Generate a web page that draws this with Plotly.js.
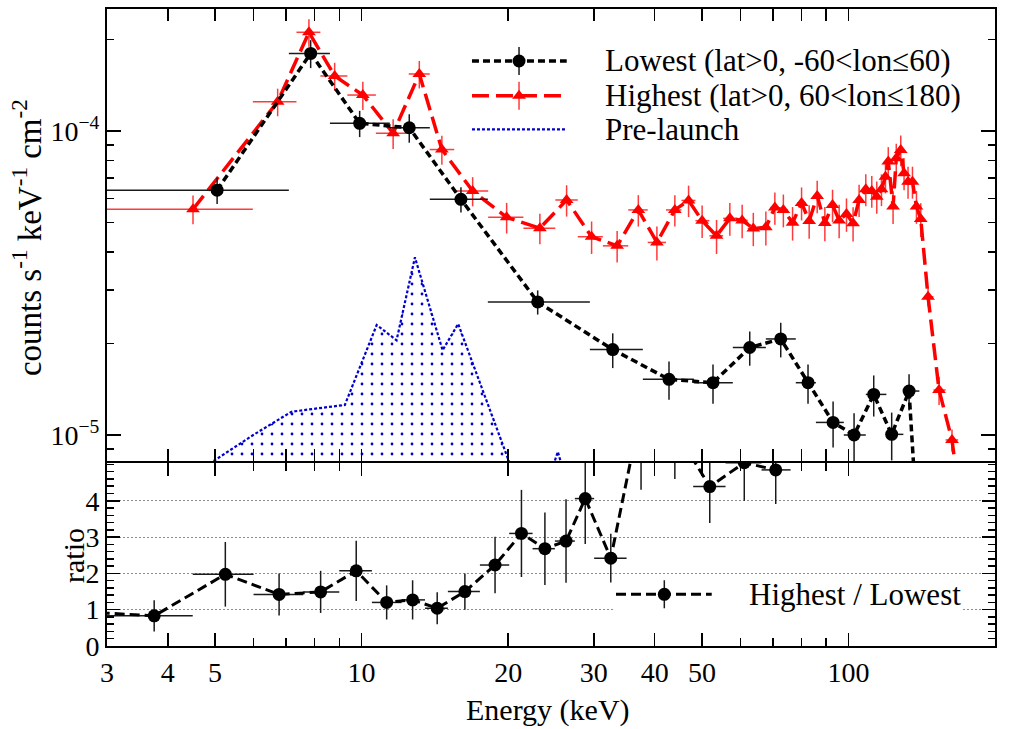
<!DOCTYPE html>
<html>
<head>
<meta charset="utf-8">
<script src="https://cdn.plot.ly/plotly-3.0.1.min.js"></script>
<style>
  html, body { margin: 0; padding: 0; background: #fff; }
  #chart { width: 1013px; height: 729px; }
</style>
</head>
<body>
<div id="chart"></div>
<script>
// ---- Lowest-rate region (lat>0, -60<lon<=60) ----
const lowE = [5.05, 7.86, 9.91, 12.53, 16.0, 23.0, 32.8, 42.8, 52.7, 62.7, 72.6, 82.6, 93.0, 102.7, 112.7, 122.7, 133.2, 143.5];
const lowBinEdges = [3.0, 7.09, 8.61, 11.43, 13.81, 18.17, 29.44, 37.82, 48.14, 57.88, 67.67, 77.96, 85.73, 97.83, 108.55, 119.65, 129.66, 139.85, 147.5];
const lowRate = [6.39e-5, 1.80e-4, 1.06e-4, 1.025e-4, 5.96e-5, 2.74e-5, 1.91e-5, 1.525e-5, 1.486e-5, 1.94e-5, 2.07e-5, 1.486e-5, 1.10e-5, 1.0e-5, 1.36e-5, 1.005e-5, 1.395e-5, 2.0e-6];
const lowErr = [0.64e-5, 1.9e-5, 1.05e-5, 1.1e-5, 0.57e-5, 0.25e-5, 0.25e-5, 0.22e-5, 0.22e-5, 0.25e-5, 0.27e-5, 0.22e-5, 0.19e-5, 0.18e-5, 0.21e-5, 0.18e-5, 0.19e-5, 0];

// ---- Highest-rate region (lat>0, 60<lon<=180) ----
const highE = [4.506, 6.724, 7.796, 8.805, 10.06, 11.61, 13.14, 14.62, 16.91, 19.86, 23.24, 26.37, 29.68, 33.49, 37.02, 40.42, 44.00, 46.95, 50.06, 53.59, 57.07, 60.49, 63.77, 67.67, 70.61, 73.51, 76.78, 80.12, 83.05, 86.26, 89.45, 92.76, 95.70, 99.08, 102.22, 105.17, 108.55, 111.67, 114.34, 116.91, 119.14, 120.73, 123.5, 125.38, 128.07, 130.09, 132.57, 135.36, 137.94, 140.78, 145.72, 153.5, 163.2, 173.0];
const highBinEdges = [3.0, 5.98, 7.35, 8.23, 9.35, 10.7, 12.5, 13.8, 15.5, 18.2, 21.5, 25.0, 27.8, 31.3, 35.3, 38.7, 42.2, 45.4, 48.5, 51.8, 55.3, 58.8, 62.1, 65.7, 69.1, 72.0, 75.1, 78.4, 81.6, 84.6, 87.8, 91.1, 94.2, 97.4, 100.6, 103.7, 106.8, 110.1, 113.0, 115.6, 118.0, 119.9, 122.1, 124.4, 126.7, 129.1, 131.3, 133.9, 136.6, 139.3, 143.2, 149.5, 158.3, 168.0, 178.0];
const highRate = [5.53e-5, 1.248e-4, 2.112e-4, 1.517e-4, 1.313e-4, 9.83e-5, 1.540e-4, 8.69e-5, 6.35e-5, 5.20e-5, 4.79e-5, 5.93e-5, 4.49e-5, 4.19e-5, 5.50e-5, 4.30e-5, 5.50e-5, 5.91e-5, 5.07e-5, 4.52e-5, 5.16e-5, 5.08e-5, 4.78e-5, 4.82e-5, 5.60e-5, 5.50e-5, 4.99e-5, 5.80e-5, 5.06e-5, 6.11e-5, 4.98e-5, 5.71e-5, 5.08e-5, 5.33e-5, 4.97e-5, 5.93e-5, 6.43e-5, 6.35e-5, 6.08e-5, 6.43e-5, 7.07e-5, 7.93e-5, 5.64e-5, 8.13e-5, 8.66e-5, 7.26e-5, 6.81e-5, 6.81e-5, 5.65e-5, 5.13e-5, 2.85e-5, 1.406e-5, 9.63e-6, 4.7e-6];
const highErr = [0.6e-5, 1.3e-5, 2.2e-5, 1.6e-5, 1.4e-5, 1.1e-5, 1.6e-5, 0.95e-5, 0.7e-5, 0.6e-5, 0.55e-5, 0.7e-5, 0.55e-5, 0.5e-5, 0.65e-5, 0.55e-5, 0.65e-5, 0.7e-5, 0.62e-5, 0.58e-5, 0.64e-5, 0.64e-5, 0.6e-5, 0.62e-5, 0.68e-5, 0.68e-5, 0.63e-5, 0.72e-5, 0.64e-5, 0.75e-5, 0.64e-5, 0.7e-5, 0.64e-5, 0.67e-5, 0.64e-5, 0.72e-5, 0.77e-5, 0.76e-5, 0.74e-5, 0.77e-5, 0.84e-5, 0.92e-5, 0.7e-5, 0.95e-5, 1.0e-5, 0.87e-5, 0.82e-5, 0.82e-5, 0.7e-5, 0.65e-5, 0.2e-5, 0.15e-5, 0.08e-5, 0.05e-5];

// ---- Pre-launch background ----
const preE = [4.5, 5.99, 7.18, 9.24, 10.74, 11.80, 12.87, 14.67, 15.79, 20.5, 22.5, 25.3, 28.0];
const preRate = [7.4e-6, 1.0e-5, 1.193e-5, 1.256e-5, 2.30e-5, 2.05e-5, 3.84e-5, 1.90e-5, 2.32e-5, 7.3e-6, 5.0e-6, 8.81e-6, 5.0e-6];
const preFloor = [1e-7, 1e-7, 1e-7, 1e-7, 1e-7, 1e-7, 1e-7, 1e-7, 1e-7, 1e-7, 1e-7, 1e-7, 1e-7];

// ---- Highest / Lowest ratio ----
const ratioE = [2.7, 3.75, 5.25, 6.77, 8.24, 9.75, 11.26, 12.73, 14.3, 16.3, 18.8, 21.3, 23.8, 26.3, 28.8, 32.5, 37.5, 44.0, 51.9, 61.1, 70.9];
const ratioBinEdges = [2.4, 3.0, 4.5, 6.0, 7.59, 9.0, 10.5, 12.08, 13.5, 15.04, 17.5, 20.1, 22.45, 24.95, 27.42, 30.04, 35.02, 40.04, 47.98, 55.92, 66.3, 76.05];
const ratioVal = [0.94, 0.83, 1.975, 1.42, 1.49, 2.07, 1.2, 1.27, 1.04, 1.5, 2.23, 3.1, 2.68, 2.89, 4.06, 2.42, 6.5, 5.96, 4.39, 5.05, 4.85];
const ratioErr = [0.3, 0.43, 0.89, 0.58, 0.58, 0.83, 0.47, 0.54, 0.44, 0.5, 0.78, 1.2, 1.0, 1.15, 1.25, 0.67, 2.2, 1.36, 1.0, 1.05, 0.94];

// ---- Axis ticks and labels ----
const xTickVals = [3, 4, 5, 10, 20, 30, 40, 50, 100, 200];
const xTickText = ['3', '4', '5', '10', '20', '30', '40', '50', '100', '200'];
const xMinorVals = [6, 7, 8, 9, 60, 70, 80, 90];
const topXTickVals = [4, 5, 6, 7, 8, 9, 10, 20, 30, 40, 50, 60, 70, 80, 90, 100];
const topYTickVals = [1e-5, 1e-4];
const topYTickText = ['10<sup>−5</sup>', '10<sup>−4</sup>'];
const topYMinorVals = [9e-6, 2e-5, 3e-5, 4e-5, 5e-5, 6e-5, 7e-5, 8e-5, 9e-5, 2e-4];
const ratioTickVals = [0, 1, 2, 3, 4];
const ratioTickText = ['0', '1', '2', '3', '4'];
const legendLabels = ['Lowest (lat&gt;0, -60&lt;lon≤60)', 'Highest (lat&gt;0, 60&lt;lon≤180)', 'Pre-launch'];
const ratioLegendLabel = 'Highest / Lowest';
const xTitle = 'Energy (keV)';
const yTopTitle = 'counts s<sup>-1</sup> keV<sup>-1</sup> cm<sup>-2</sup>';
const yRatioTitle = 'ratio';

// bin edges -> asymmetric horizontal error bars
const errLo = (e, edges) => e.map((v, i) => v - edges[i]);
const errHi = (e, edges) => e.map((v, i) => edges[i + 1] - v);

const FONT = 'Liberation Serif, Times New Roman, Times, serif';
const BLACK = '#000000';
const RED = '#ff0000';
const BLUE = '#0000d0';

const lowStyle = {
  line: { color: BLACK, width: 3.5, dash: '7px,4px' },
  marker: { symbol: 'circle', size: 13, color: BLACK },
  err: '#1a1a1a'
};
const highStyle = {
  line: { color: RED, width: 3.5, dash: '17px,7px' },
  marker: { symbol: 'triangle-up', size: 12, color: RED },
  err: '#ff3a3a'
};
const preLine = { color: BLUE, width: 2.2, dash: '3px,2px' };
const ratioStyle = {
  line: { color: BLACK, width: 3, dash: '10px,5px' },
  marker: { symbol: 'circle', size: 13, color: BLACK },
  err: '#1a1a1a'
};

function spectrumTrace(E, edges, rate, err, style, xa, ya) {
  return {
    x: E, y: rate, xaxis: xa, yaxis: ya,
    type: 'scatter', mode: 'lines+markers',
    line: style.line, marker: style.marker,
    error_y: { type: 'data', array: err, color: style.err, thickness: 1.5, width: 0 },
    error_x: { type: 'data', symmetric: false, array: errHi(E, edges), arrayminus: errLo(E, edges),
               color: style.err, thickness: 1.5, width: 0 },
    hoverinfo: 'skip', showlegend: false
  };
}

const traces = [];

// pre-launch: floor then patterned fill up to the curve
traces.push({
  x: preE, y: preFloor, xaxis: 'x2', yaxis: 'y2', type: 'scatter', mode: 'lines',
  line: { width: 0, color: 'rgba(0,0,0,0)' }, hoverinfo: 'skip', showlegend: false
});
traces.push({
  x: preE, y: preRate, xaxis: 'x2', yaxis: 'y2', type: 'scatter', mode: 'lines',
  line: preLine, fill: 'tonexty', fillcolor: 'rgba(0,0,0,0)',
  fillpattern: { shape: '.', fgcolor: BLUE, bgcolor: 'rgba(0,0,0,0)', size: 10, solidity: 0.06 },
  hoverinfo: 'skip', showlegend: false
});

traces.push(spectrumTrace(highE, highBinEdges, highRate, highErr, highStyle, 'x2', 'y2'));
traces.push(spectrumTrace(lowE, lowBinEdges, lowRate, lowErr, lowStyle, 'x2', 'y2'));
traces.push(spectrumTrace(ratioE, ratioBinEdges, ratioVal, ratioErr, ratioStyle, 'x', 'y'));

// legend panel for the ratio: plain white backing that hides the grid behind the key
traces.push({
  x: [0.5698, 0.9628, 0.9628, 0.5698, 0.5698], y: [0.0377, 0.0377, 0.1068, 0.1068, 0.0377],
  xaxis: 'x3', yaxis: 'y3', type: 'scatter', mode: 'lines', fill: 'toself',
  fillcolor: '#ffffff', line: { width: 0, color: 'rgba(0,0,0,0)' },
  hoverinfo: 'skip', showlegend: false
});

// legend keys, drawn on a transparent overlay spanning the plotting area
function legendKey(x0, x1, xm, y, line, marker, errColor) {
  const out = [{
    x: [x0, x1], y: [y, y], xaxis: 'x3', yaxis: 'y3', type: 'scatter', mode: 'lines',
    line: line, hoverinfo: 'skip', showlegend: false
  }];
  if (marker) {
    out.push({
      x: [xm], y: [y], xaxis: 'x3', yaxis: 'y3', type: 'scatter', mode: 'markers',
      marker: marker, hoverinfo: 'skip', showlegend: false,
      error_y: { type: 'constant', value: 0.022, color: errColor, thickness: 1.5, width: 0 }
    });
  }
  return out;
}
const keyRows = [0.9184, 0.8639, 0.8111];
traces.push(...legendKey(0.411, 0.5177, 0.464, keyRows[0], lowStyle.line, lowStyle.marker, lowStyle.err));
traces.push(...legendKey(0.411, 0.5177, 0.464, keyRows[1], highStyle.line, highStyle.marker, highStyle.err));
traces.push(...legendKey(0.411, 0.5177, 0.464, keyRows[2], preLine, null, null));
traces.push(...legendKey(0.5732, 0.681, 0.6276, 0.0812, ratioStyle.line, ratioStyle.marker, ratioStyle.err));

const axisCommon = {
  showline: true, linecolor: BLACK, linewidth: 2, mirror: 'allticks',
  ticks: 'inside', tickcolor: BLACK, tickwidth: 1.5,
  showgrid: false, zeroline: false, fixedrange: true,
  tickfont: { family: FONT, size: 28, color: BLACK }
};

const xRange = [Math.log10(3), Math.log10(200)];
const splitY = 0.28729;
const topStart = splitY + 2 / 637;   // frame lines of both panels meet on one rule

const annotations = [
  { text: legendLabels[0], x: 0.5586, y: keyRows[0] },
  { text: legendLabels[1], x: 0.5586, y: keyRows[1] },
  { text: legendLabels[2], x: 0.5586, y: keyRows[2] },
  { text: ratioLegendLabel, x: 0.7204, y: 0.0812 }
].map(a => Object.assign({
  xref: 'paper', yref: 'paper', xanchor: 'left', yanchor: 'middle', showarrow: false,
  font: { family: FONT, size: 31, color: BLACK }
}, a));

annotations.push({
  text: yTopTitle, xref: 'paper', yref: 'paper', x: -0.0901, y: 0.642,
  xanchor: 'center', yanchor: 'middle', textangle: -90, showarrow: false,
  font: { family: FONT, size: 33, color: BLACK }
});
annotations.push({
  text: yRatioTitle, xref: 'paper', yref: 'paper', x: -0.0372, y: 0.1429,
  xanchor: 'center', yanchor: 'middle', textangle: -90, showarrow: false,
  font: { family: FONT, size: 30, color: BLACK }
});
annotations.push({
  text: xTitle, xref: 'paper', yref: 'paper', x: 0.4966, y: -0.1005,
  xanchor: 'center', yanchor: 'middle', showarrow: false,
  font: { family: FONT, size: 30, color: BLACK }
});

const layout = {
  width: 1013, height: 729,
  margin: { l: 107, r: 18, t: 9, b: 83, pad: 0 },
  paper_bgcolor: '#ffffff', plot_bgcolor: 'rgba(0,0,0,0)',
  showlegend: false,
  font: { family: FONT, color: BLACK },
  xaxis: Object.assign({}, axisCommon, {
    type: 'log', range: xRange, domain: [0, 1], anchor: 'y',
    tickmode: 'array', tickvals: xTickVals, ticktext: xTickText, ticklen: 13,
    minor: { tickmode: 'array', tickvals: xMinorVals, ticks: 'inside', ticklen: 8, tickwidth: 1.5, tickcolor: BLACK }
  }),
  yaxis: Object.assign({}, axisCommon, {
    range: [0, 5.04], domain: [0, splitY], anchor: 'x',
    tickmode: 'array', tickvals: ratioTickVals, ticktext: ratioTickText, ticklen: 13,
    showgrid: true, gridcolor: '#8c8c8c', gridwidth: 1, griddash: '2px,2px',
    minor: { tickmode: 'linear', tick0: 0, dtick: 0.2, ticks: 'inside', ticklen: 7, tickwidth: 1.5, tickcolor: BLACK, showgrid: false }
  }),
  xaxis2: Object.assign({}, axisCommon, {
    type: 'log', range: xRange, domain: [0, 1], anchor: 'y2',
    tickmode: 'array', tickvals: topXTickVals, showticklabels: false, ticklen: 12
  }),
  yaxis2: Object.assign({}, axisCommon, {
    type: 'log', range: [-5.0855, -3.5987], domain: [topStart, 1], anchor: 'x2',
    tickmode: 'array', tickvals: topYTickVals, ticktext: topYTickText, ticklen: 14,
    minor: { tickmode: 'array', tickvals: topYMinorVals, ticks: 'inside', ticklen: 7, tickwidth: 1.5, tickcolor: BLACK }
  }),
  xaxis3: { domain: [0, 1], range: [0, 1], anchor: 'y3', visible: false, fixedrange: true },
  yaxis3: { domain: [0, 1], range: [0, 1], anchor: 'x3', visible: false, fixedrange: true },
  annotations: annotations
};

Plotly.newPlot('chart', traces, layout, { staticPlot: true, displayModeBar: false });
</script>
</body>
</html>
